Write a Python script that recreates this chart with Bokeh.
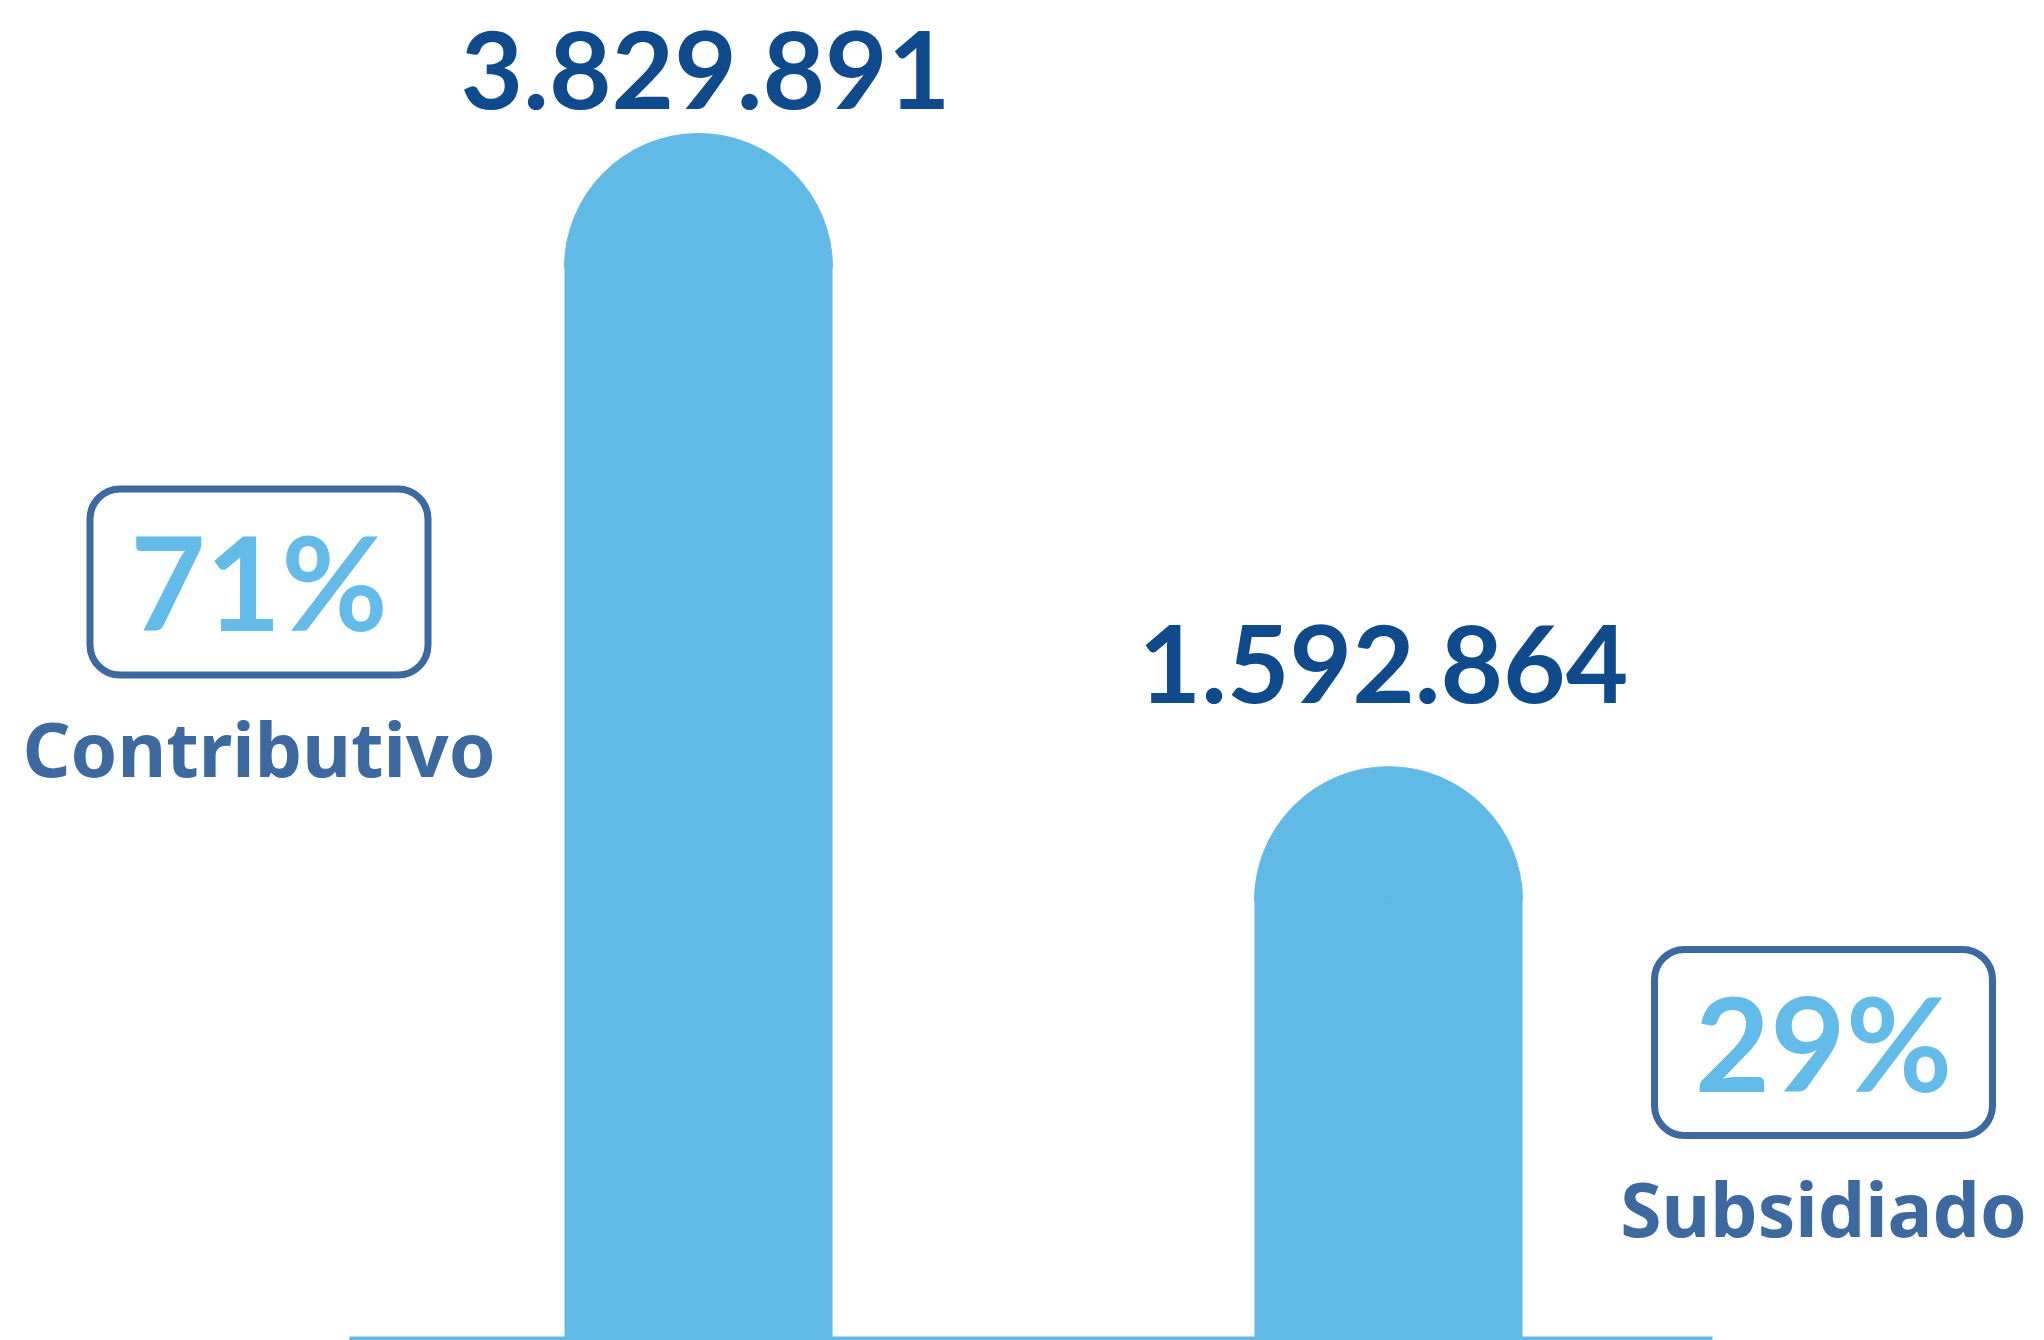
import math
from bokeh.plotting import figure
from bokeh.models import Range1d, BoxAnnotation, ColumnDataSource
from bokeh.core.properties import value
from bokeh.embed import file_html
from bokeh.resources import INLINE

# ---- data ----
categories = ["Contributivo", "Subsidiado"]
afiliados = [3829891, 1592864]
value_labels = ["3.829.891", "1.592.864"]
percent_labels = ["71%", "29%"]

# ---- layout / style ----
W, H = 2044, 1340
OX, OY = 0, 0
BAR_COLOR = "#61B9E6"
NUM_COLOR = "#0E4A8C"
BOX_COLOR = "#3D69A1"
PCT_COLOR = "#62BBE8"
NUM_FONT = "Lato"
PCT_FONT = "Lato"
LABEL_FONT = "Noto Sans"

NUM_SIZE, PCT_SIZE, CAT_SIZE = 108, 130, 75
SHIFT = 0.35   # baseline correction (fraction of font size)

bar_cx = [698, 1388]
bar_w = 268
zero_px = 1351                     # screen y where the value 0 lies (below the frame)
top_px = 267                       # screen y of the top of the longest bar body
k = (zero_px - top_px) / max(afiliados)   # px per unit

def ydata(py):
    return (zero_px - py) / k

label_dx = [7, -5]
label_offsets = [-160 - SHIFT * NUM_SIZE, -199 - SHIFT * NUM_SIZE]
box_cx = [258.5, 1823]
box_cy = [581.5, 1042]
box_w, box_h = 338, 186

p = figure(width=W, height=H, output_backend="svg", toolbar_location=None,
           x_range=Range1d(OX, OX + W), y_range=Range1d(ydata(OY + H), ydata(OY)),
           min_border=0, x_axis_location=None, y_axis_location=None)
p.outline_line_color = None
p.grid.visible = False
p.background_fill_color = "white"
p.border_fill_color = "white"

src = ColumnDataSource(dict(x=bar_cx, top=afiliados, lab=value_labels,
                            off=label_offsets, dx=label_dx))

# baseline
p.segment(x0=[349], x1=[1712], y0=[ydata(1338)], y1=[ydata(1338)],
          line_color=BAR_COLOR, line_width=4)

# bars: body + round cap
p.vbar(x="x", top="top", bottom=ydata(OY + H + 10), width=bar_w, source=src,
       fill_color=BAR_COLOR, line_color=None)
p.wedge(x="x", y="top", radius=bar_w / 2, start_angle=0, end_angle=math.pi,
        source=src, fill_color=BAR_COLOR, line_color=BAR_COLOR, line_width=1)

# value labels
p.text(x="x", y="top", text="lab", x_offset="dx", y_offset="off", source=src,
       text_align="center", text_baseline="alphabetic",
       text_font=value(NUM_FONT), text_font_style="bold", text_font_size=f"{NUM_SIZE}px",
       text_color=NUM_COLOR)

# percent boxes
for cx, cy in zip(box_cx, box_cy):
    p.add_layout(BoxAnnotation(left=cx - box_w / 2, right=cx + box_w / 2,
                               top=ydata(cy - box_h / 2), bottom=ydata(cy + box_h / 2),
                               border_radius=30, fill_color=None,
                               line_color=BOX_COLOR, line_width=7, line_alpha=1))

bsrc = ColumnDataSource(dict(x=box_cx,
                             ypct=[ydata(c + 44.5 - SHIFT * PCT_SIZE) for c in box_cy],
                             ycat=[ydata(c + 192 - SHIFT * CAT_SIZE) for c in box_cy],
                             pct=percent_labels, cat=categories))
p.text(x="x", y="ypct", text="pct", source=bsrc, text_align="center",
       text_baseline="alphabetic", text_font=value(PCT_FONT), text_font_style="bold",
       text_font_size=f"{PCT_SIZE}px", text_color=PCT_COLOR)
p.text(x="x", y="ycat", text="cat", source=bsrc, text_align="center",
       text_baseline="alphabetic", text_font=value(LABEL_FONT), text_font_style="bold",
       text_font_size=f"{CAT_SIZE}px", text_color=BOX_COLOR)

open("out.html", "w").write(file_html(p, INLINE))
